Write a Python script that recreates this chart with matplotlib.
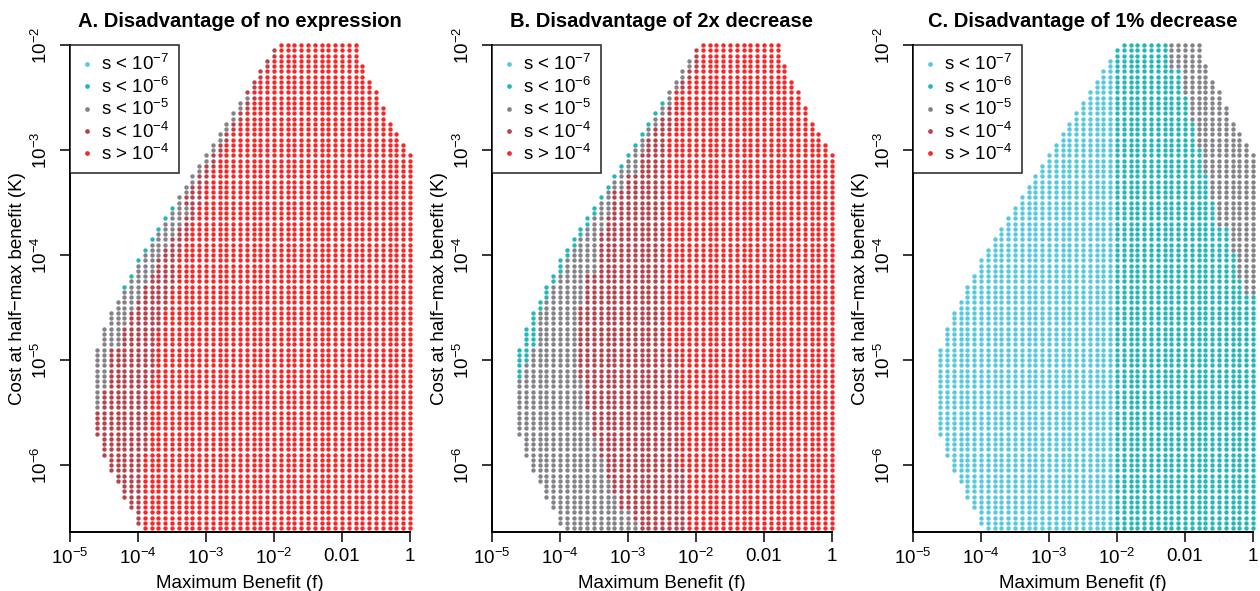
import numpy as np
import matplotlib
matplotlib.use("Agg")
import matplotlib.pyplot as plt
from matplotlib.lines import Line2D

plt.rcParams['font.family'] = ['Liberation Sans', 'DejaVu Sans']
plt.rcParams['mathtext.fontset'] = 'custom'
plt.rcParams['mathtext.rm'] = 'Liberation Sans'
plt.rcParams['mathtext.it'] = 'Liberation Sans:italic'
plt.rcParams['mathtext.bf'] = 'Liberation Sans:bold'

# ---------------- data ----------------
# grid columns: log10(f) in tenths of a decade ; rows: log10(K) = -2 - 0.05*row
F_TENTHS = np.arange(-46, 1)
LOG10_K_ROWS = -2.0 - 0.05 * np.arange(93)

# first / last column (tenths of decade of f) occupied in each row, run-length encoded (value, n_rows)
LEFT_EDGE = [(-19, 1)] + [(v, 2) for v in range(-20, -40, -1)] + \
    [(-40, 3), (-41, 2), (-42, 3), (-43, 2), (-44, 3), (-45, 4), (-46, 17),
     (-45, 4), (-44, 3), (-43, 2), (-42, 3), (-41, 2), (-40, 3), (-39, 1)]
RIGHT_EDGE = [(-8, 4), (-7, 3), (-6, 2), (-5, 3), (-4, 3), (-3, 2), (-2, 2), (-1, 2), (0, 72)]

CLASS_LABELS = [r's < $\mathregular{10^{-7}}$', r's < $\mathregular{10^{-6}}$',
                r's < $\mathregular{10^{-5}}$', r's < $\mathregular{10^{-4}}$',
                r's > $\mathregular{10^{-4}}$']
CLASS_COLORS = ['#55c9de', '#22b8b8', '#828288', '#b8424c', '#f42828']

# class boundaries per row: first column of class (teal, gray, darkred, red)
# each given as (offset from left edge RLE, absolute column RLE); boundary = max of both
NONE = [(-99, 93)]
ZERO = [(0, 93)]
A_BOUNDS = {
    'teal': (ZERO, NONE),
    'gray': ([(0, 31), (1, 1), (0, 1), (1, 1), (0, 1), (1, 1), (0, 1), (1, 1), (0, 1),
              (1, 1), (0, 1), (1, 1), (0, 2), (1, 1), (0, 1), (1, 1), (0, 46)], NONE),
    'darkred': ([(0, 10), (1, 21), (3, 27), (2, 8), (1, 4), (0, 23)], NONE),
    'red': ([(0, 1), (1, 9), (2, 11), (0, 72)],
            [(-99, 21), (-28, 3), (-29, 3), (-30, 4), (-31, 3), (-32, 3), (-33, 3), (-34, 7),
             (-35, 4), (-36, 4), (-37, 9), (-38, 14), (-39, 15)]),
}
B_BOUNDS = {
    'teal': (ZERO, NONE),
    'gray': ([(0, 11)] + [(1, 1), (0, 1)] * 10 + [(1, 23), (2, 7), (1, 3), (0, 29)], NONE),
    'darkred': ([(0, 3), (1, 8), (2, 1), (1, 1), (2, 1), (1, 1), (2, 1), (1, 1), (2, 1), (0, 75)],
                [(-99, 18), (-27, 3), (-28, 4), (-30, 3), (-32, 5), (-33, 3), (-34, 8), (-36, 6),
                 (-37, 14), (-36, 6), (-35, 5), (-34, 4), (-33, 4), (-32, 3), (-31, 3), (-29, 2),
                 (-28, 2)]),
    'red': ([(0, 1), (1, 2), (2, 6), (0, 84)],
            [(-99, 9), (-23, 8), (-24, 42), (-22, 22), (-21, 12)]),
}
C_BOUNDS = {
    'teal': (ZERO, [(-20, 93)]),
    'gray': (ZERO, [(-12, 5), (-10, 5), (-9, 5), (-8, 5), (-7, 5), (-6, 5), (-5, 5), (-3, 5),
                    (-2, 5), (-1, 3), (99, 45)]),
    'darkred': (ZERO, [(99, 93)]),
    'red': (ZERO, [(99, 93)]),
}
TITLES = ['A. Disadvantage of no expression', 'B. Disadvantage of 2x decrease',
          'C. Disadvantage of 1% decrease']
BOUNDS = [A_BOUNDS, B_BOUNDS, C_BOUNDS]

X_TICKS = [1e-5, 1e-4, 1e-3, 1e-2, 1e-1, 1]
X_TICK_LABELS = [r'$\mathregular{10^{-5}}$', r'$\mathregular{10^{-4}}$', r'$\mathregular{10^{-3}}$',
                 r'$\mathregular{10^{-2}}$', '0.01', '1']
Y_TICKS = [1e-6, 1e-5, 1e-4, 1e-3, 1e-2]
Y_TICK_LABELS = [r'$\mathregular{10^{-6}}$', r'$\mathregular{10^{-5}}$', r'$\mathregular{10^{-4}}$',
                 r'$\mathregular{10^{-3}}$', r'$\mathregular{10^{-2}}$']


def expand(pairs):
    return np.concatenate([np.full(n, v, dtype=float) for v, n in pairs])


left = expand(LEFT_EDGE)
right = expand(RIGHT_EDGE)


def classify(bounds):
    fs, ks, cl = [], [], []
    b = {}
    for name, (rel, ab) in bounds.items():
        b[name] = np.maximum(left + expand(rel), expand(ab))
    for r, lk in enumerate(LOG10_K_ROWS):
        for F in F_TENTHS:
            if F < left[r] or F > right[r]:
                continue
            if F >= b['red'][r]:
                c = 4
            elif F >= b['darkred'][r]:
                c = 3
            elif F >= b['gray'][r]:
                c = 2
            elif F >= b['teal'][r]:
                c = 1
            else:
                c = 0
            fs.append(10 ** (F / 10.0))
            ks.append(10 ** lk)
            cl.append(c)
    return np.array(fs), np.array(ks), np.array(cl)


# ---------------- figure ----------------
W, H = 1260, 591
fig = plt.figure(figsize=(W / 100, H / 100), dpi=100)
lefts = [70, 492, 913]
for i in range(3):
    ax = fig.add_axes([lefts[i] / W, (H - 532) / H, 340 / W, 487 / H])
    fs, ks, cl = classify(BOUNDS[i])
    for c in range(5):
        m = cl == c
        if m.any():
            ax.scatter(fs[m], ks[m], s=10, c=CLASS_COLORS[c], linewidths=0, clip_on=False, zorder=2)
    ax.set_xscale('log')
    ax.set_yscale('log')
    ax.set_xlim(1e-5, 1)
    ax.set_ylim(10 ** -6.638, 1e-2)
    for s in ['top', 'right']:
        ax.spines[s].set_visible(False)
    for s in ['left', 'bottom']:
        ax.spines[s].set_linewidth(1.4)
        ax.spines[s].set_zorder(3)
    ax.set_xticks(X_TICKS)
    ax.set_xticklabels(X_TICK_LABELS, fontsize=13.5)
    ax.set_yticks(Y_TICKS)
    ax.set_yticklabels(Y_TICK_LABELS, fontsize=13.5, rotation=90, va='center')
    ax.minorticks_off()
    ax.tick_params(axis='both', length=7.5, width=1.1, direction='out', pad=4)
    ax.tick_params(axis='y', pad=6)
    ax.set_xlabel('Maximum Benefit (f)', fontsize=13.5, labelpad=5)
    ax.set_ylabel('Cost at half\u2212max benefit (K)', fontsize=13.5, labelpad=4)
    ax.set_title(TITLES[i], fontsize=14.5, fontweight='bold', pad=13)
    handles = [Line2D([], [], marker='o', linestyle='', color=CLASS_COLORS[c], markersize=3.4,
                      markeredgewidth=0) for c in range(5)]
    leg = ax.legend(handles, CLASS_LABELS, loc='upper left', bbox_to_anchor=(0.0, 1.0),
                    borderaxespad=0, fontsize=13.5, frameon=True, fancybox=False,
                    handletextpad=0.35, handlelength=0.8, labelspacing=0.12,
                    borderpad=0.5)
    leg.get_frame().set_edgecolor('black')
    leg.get_frame().set_linewidth(1.2)
    leg.set_zorder(5)

fig.savefig('out.png', dpi=100)
